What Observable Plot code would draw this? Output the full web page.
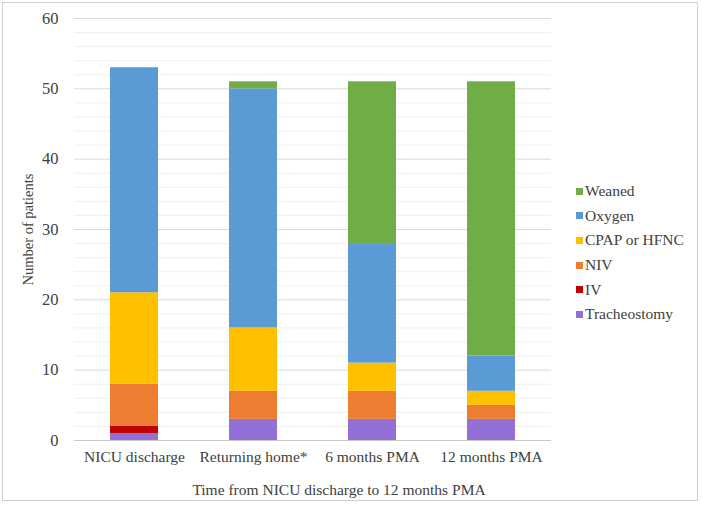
<!DOCTYPE html>
<html>
<head>
<meta charset="utf-8">
<script src="https://cdn.jsdelivr.net/npm/d3@7"></script>
<script src="https://cdn.jsdelivr.net/npm/@observablehq/plot@0.6"></script>
<style>
  html, body { margin: 0; padding: 0; background: #fff; }
  #wrap { position: relative; width: 702px; height: 505px; overflow: hidden; font-family: "Liberation Serif", "Times New Roman", serif; }
  #frame { position: absolute; left: 2px; top: 2px; width: 696px; height: 499px; border: 1px solid #d0d0d0; box-sizing: border-box; }
  #chart { position: absolute; left: 0; top: 0; }
  #legend { position: absolute; left: 576px; top: 179px; font-family: "Liberation Serif", serif; }
  .item { height: 24.6px; display: flex; align-items: center; font-size: 15.5px; color: #404040; white-space: nowrap; }
  .sw { width: 7px; height: 7px; margin-right: 2px; }
</style>
</head>
<body>
<div id="wrap"><div id="frame"></div><div id="chart"></div><div id="legend"></div></div>
<script>
const categories = ["NICU discharge", "Returning home*", "6 months PMA", "12 months PMA"];
const seriesNames = ["Tracheostomy", "IV", "NIV", "CPAP or HFNC", "Oxygen", "Weaned"];
const seriesColors = ["#9370D8", "#C00000", "#ED7D31", "#FFC000", "#5B9BD5", "#70AD47"];
const tracheostomy = [1, 3, 3, 3];
const iv = [1, 0, 0, 0];
const niv = [6, 4, 4, 2];
const cpapHfnc = [13, 9, 4, 2];
const oxygen = [32, 34, 17, 5];
const weaned = [0, 1, 23, 39];
const yTicks = [0, 10, 20, 30, 40, 50, 60];
const yMinorTicks = [2, 4, 6, 8, 12, 14, 16, 18, 22, 24, 26, 28, 32, 34, 36, 38, 42, 44, 46, 48, 52, 54, 56, 58];

const valuesBySeries = [tracheostomy, iv, niv, cpapHfnc, oxygen, weaned];
const rows = [];
seriesNames.forEach((s, i) => categories.forEach((c, j) => rows.push({category: c, series: s, value: valuesBySeries[i][j]})));

const chart = Plot.plot({
  width: 702,
  height: 505,
  marginLeft: 74,
  marginRight: 151,
  marginTop: 18,
  marginBottom: 65,
  style: {fontFamily: "'Liberation Serif', 'Times New Roman', serif", fontSize: "15px", color: "#404040", background: "transparent"},
  x: {domain: categories, paddingInner: 0.6, paddingOuter: 0.3, label: null},
  y: {domain: [0, 60], label: null},
  color: {domain: seriesNames, range: seriesColors},
  marks: [
    Plot.ruleY(yMinorTicks, {stroke: "#efefef", strokeWidth: 1}),
    Plot.ruleY(yTicks.filter(d => d > 0), {stroke: "#d9d9d9", strokeWidth: 1}),
    Plot.barY(rows, Plot.stackY({order: seriesNames, x: "category", y: "value", fill: "series"})),
    Plot.ruleY([0], {stroke: "#c8c8c8", strokeWidth: 1.2}),
    Plot.axisY({ticks: yTicks, tickSize: 0, tickPadding: 16, fontSize: 16.5, label: null}),
    Plot.axisX({tickSize: 0, tickPadding: 10, fontSize: 15.5, label: null}),
    Plot.text(["Number of patients"], {frameAnchor: "left", textAnchor: "middle", dx: -46, rotate: -90, fontSize: 14.5}),
    Plot.text(["Time from NICU discharge to 12 months PMA"], {frameAnchor: "bottom", dx: 26, dy: 54, fontSize: 15.5})
  ]
});
document.getElementById("chart").appendChild(chart);

const legend = document.getElementById("legend");
seriesNames.slice().reverse().forEach((s) => {
  const i = seriesNames.indexOf(s);
  const item = document.createElement("div");
  item.className = "item";
  const sw = document.createElement("span");
  sw.className = "sw";
  sw.style.background = seriesColors[i];
  const t = document.createElement("span");
  t.textContent = s;
  item.appendChild(sw);
  item.appendChild(t);
  legend.appendChild(item);
});
</script>
</body>
</html>
